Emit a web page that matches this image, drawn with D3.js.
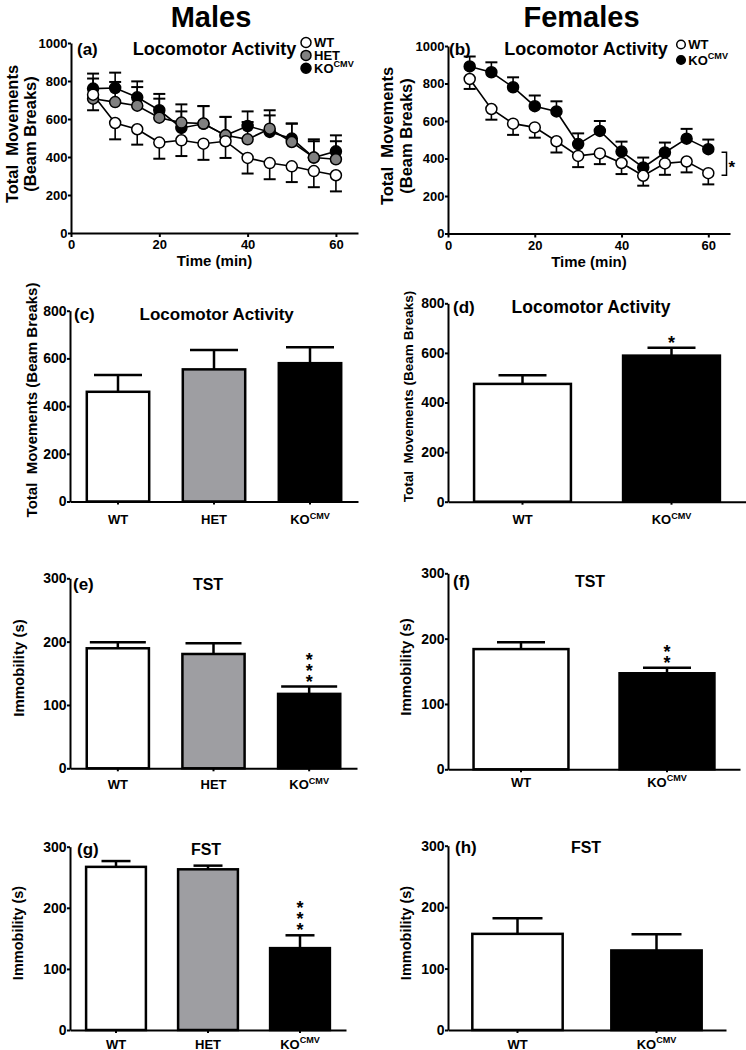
<!DOCTYPE html>
<html><head><meta charset="utf-8">
<script src="https://cdn.jsdelivr.net/npm/d3@7"></script>
<style>
body{margin:0;background:#fff;}
svg{display:block;font-family:"Liberation Sans",Arial,sans-serif;font-weight:bold;}
text{white-space:pre;fill:#000;}
</style></head><body>
<svg id="chart" width="746" height="1050"></svg>
<script>
// ---------- DATA ----------
const timeMin = [5, 10, 15, 20, 25, 30, 35, 40, 45, 50, 55, 60];
const timeTicks = [0, 20, 40, 60];
const locoTicks = [0, 200, 400, 600, 800, 1000];
const barLocoTicks = [0, 200, 400, 600, 800];
const immTicks = [0, 100, 200, 300];

const malesWT = [728, 579, 546, 476, 488, 470, 483, 395, 368, 351, 326, 304];
const malesWTErr = [82, 86, 81, 85, 83, 85, 88, 82, 85, 83, 85, 85];
const malesHET = [707, 689, 670, 607, 581, 576, 514, 493, 549, 479, 397, 388];
const malesHETErr = [106, 106, 98, 100, 96, 92, 97, 91, 97, 97, 86, 95];
const malesKO = [760, 763, 714, 646, 553, 575, 514, 563, 532, 497, 397, 430];
const malesKOErr = [79, 81, 84, 86, 87, 93, 97, 77, 87, 79, 96, 84];

const femalesWT = [824, 664, 586, 566, 492, 414, 427, 376, 308, 374, 384, 322];
const femalesWTErr = [53, 57, 60, 55, 60, 60, 57, 59, 53, 61, 58, 60];
const femalesKO = [891, 860, 780, 679, 651, 477, 547, 437, 352, 432, 506, 450];
const femalesKOErr = [53, 53, 53, 57, 54, 57, 53, 53, 53, 53, 52, 51];

const maleGroups = ["WT", "HET", "KO"];
const femaleGroups = ["WT", "KO"];

const cLoco = [460, 554, 580];        const cLocoErr = [70, 81, 67];
const dLoco = [475, 589];             const dLocoErr = [35, 32];
const eTST = [189.5, 180.5, 117.5];   const eTSTErr = [9.5, 17, 11.5];
const fTST = [184, 147];              const fTSTErr = [10.5, 8.5];
const gFST = [267, 263, 134];         const gFSTErr = [9.5, 6, 21];
const hFST = [156.5, 129.5];          const hFSTErr = [25.5, 26.5];

const cStars = [0, 0, 0]; const dStars = [0, 1];
const eStars = [0, 0, 3]; const fStars = [0, 2];
const gStars = [0, 0, 3]; const hStars = [0, 0];

// ---------- STYLE ----------
const fills = {WT: "#ffffff", HET: "#9e9ea2", KO: "#000000"};
const markFills = {WT: "#ffffff", HET: "#808080", KO: "#000000"};
const svg = d3.select("#chart");
const fmt = d3.format("d");

function styleAxis(sel, size) {
  sel.attr("font-family", null).attr("font-size", size).attr("font-weight", "bold");
  sel.select(".domain").attr("stroke", "#000").attr("stroke-width", 2);
  sel.selectAll(".tick line").attr("stroke", "#000").attr("stroke-width", 2);
  sel.selectAll(".tick text").attr("fill", "#000");
}

function koLabel(t, size) {
  t.append("tspan").text("KO");
  t.append("tspan").attr("dy", -size * 0.42).attr("font-size", size * 0.7).text("CMV");
}

function groupLabel(t, g, size) {
  if (g === "KO") koLabel(t, size); else t.text(g);
}

function rotLabel(lines, cx, cy, size, gap) {
  lines.forEach((s, i) => {
    svg.append("text")
      .attr("transform", `translate(${cx + i * gap},${cy}) rotate(-90)`)
      .attr("text-anchor", "middle").attr("dy", "0.35em")
      .attr("font-size", size).text(s);
  });
}

// ---------- LINE PANELS ----------
function linePanel(o) {
  const x = d3.scaleLinear().domain([0, 65]).range([o.x0, o.x1]);
  const y = d3.scaleLinear().domain([0, 1000]).range([o.yBot, o.yTop]);
  const g = svg.append("g");
  o.series.forEach(s => {
    s.vals.forEach((v, i) => {
      const e = s.down ? v - s.err[i] : v + s.err[i];
      const cx = x(timeMin[i]);
      g.append("line").attr("x1", cx).attr("x2", cx).attr("y1", y(v)).attr("y2", y(e))
        .attr("stroke", "#000").attr("stroke-width", 1.6);
      g.append("line").attr("x1", cx - 6).attr("x2", cx + 6).attr("y1", y(e)).attr("y2", y(e))
        .attr("stroke", "#000").attr("stroke-width", 2);
    });
  });
  const line = d3.line().x((d, i) => x(timeMin[i])).y(d => y(d));
  o.series.forEach(s => {
    g.append("path").attr("d", line(s.vals)).attr("fill", "none")
      .attr("stroke", "#000").attr("stroke-width", 1.6);
  });
  o.series.forEach(s => {
    g.selectAll(null).data(s.vals).enter().append("circle")
      .attr("cx", (d, i) => x(timeMin[i])).attr("cy", d => y(d)).attr("r", 5.5)
      .attr("fill", markFills[s.key]).attr("stroke", "#000").attr("stroke-width", 1.5);
  });
  g.append("g").attr("transform", `translate(0,${o.yBot})`)
    .call(d3.axisBottom(x).tickValues(timeTicks).tickSize(4).tickSizeOuter(0).tickFormat(fmt))
    .call(styleAxis, 13);
  g.append("g").attr("transform", `translate(${o.x0},0)`)
    .call(d3.axisLeft(y).tickValues(locoTicks).tickSize(3).tickPadding(0.5).tickSizeOuter(0).tickFormat(fmt))
    .call(styleAxis, 13);
  svg.append("text").attr("x", o.labX).attr("y", o.titleY).attr("font-size", 17).text(o.lab);
  svg.append("text").attr("x", o.titleX).attr("y", o.titleY).attr("text-anchor", "middle")
    .attr("font-size", 18).text("Locomotor Activity");
  svg.append("text").attr("x", (o.x0 + o.x1) / 2).attr("y", o.yBot + 33)
    .attr("text-anchor", "middle").attr("font-size", 15).text("Time (min)");
  o.legend.forEach((k, i) => {
    const ly = o.legY + i * o.legGap;
    svg.append("circle").attr("cx", o.legX).attr("cy", ly).attr("r", o.legR)
      .attr("fill", markFills[k]).attr("stroke", "#000").attr("stroke-width", 1.5);
    const t = svg.append("text").attr("x", o.legX + o.legR + 3).attr("y", ly + 4.5).attr("font-size", 13);
    if (k === "KO") koLabel(t, 13); else t.text(k);
  });
  return {x, y};
}

linePanel({
  x0: 71, x1: 358, yTop: 43, yBot: 233,
  lab: "(a)", labX: 77, titleX: 214.5, titleY: 55,
  series: [
    {key: "KO", vals: malesKO, err: malesKOErr, down: false},
    {key: "HET", vals: malesHET, err: malesHETErr, down: false},
    {key: "WT", vals: malesWT, err: malesWTErr, down: true}
  ],
  legend: ["WT", "HET", "KO"], legX: 306, legY: 42.5, legGap: 12.9, legR: 5
});

const pb = linePanel({
  x0: 448, x1: 730, yTop: 46, yBot: 233.5,
  lab: "(b)", labX: 449, titleX: 586, titleY: 55,
  series: [
    {key: "KO", vals: femalesKO, err: femalesKOErr, down: false},
    {key: "WT", vals: femalesWT, err: femalesWTErr, down: true}
  ],
  legend: ["WT", "KO"], legX: 681, legY: 44.5, legGap: 15.5, legR: 4.3
});
{
  const yTopB = pb.y(femalesKO[11]) + 3, yBotB = pb.y(femalesWT[11]) + 2;
  const bx = pb.x(64.2);
  svg.append("path")
    .attr("d", `M${bx - 5},${yTopB}H${bx}V${yBotB}H${bx - 5}`)
    .attr("fill", "none").attr("stroke", "#000").attr("stroke-width", 1.5);
  svg.append("text").attr("x", bx + 2).attr("y", (yTopB + yBotB) / 2 + 9)
    .attr("font-size", 17).text("*");
}

svg.append("text").attr("x", 211).attr("y", 26.5).attr("text-anchor", "middle")
  .attr("font-size", 29).text("Males");
svg.append("text").attr("x", 581.5).attr("y", 26.5).attr("text-anchor", "middle")
  .attr("font-size", 29).text("Females");
rotLabel(["Total  Movements", "(Beam Breaks)"], 12, 134, 16.5, 18.5);
rotLabel(["Total  Movements", "(Beam Breaks)"], 387, 136, 16.5, 19.5);

// ---------- BAR PANELS ----------
function barPanel(o) {
  const x = d3.scaleBand().domain(o.cats).range([o.x0, o.x1]).paddingInner(0.35).paddingOuter(0.175);
  const y = d3.scaleLinear().domain([0, o.ymax]).range([o.yBot, o.yTop]);
  const g = svg.append("g");
  const bw = x.bandwidth();
  o.cats.forEach((c, i) => {
    const cx = x(c) + bw / 2;
    const top = y(o.vals[i] + o.err[i]);
    g.append("line").attr("x1", cx).attr("x2", cx).attr("y1", y(o.vals[i])).attr("y2", top)
      .attr("stroke", "#000").attr("stroke-width", 2.5);
    g.append("line").attr("x1", cx - o.capW).attr("x2", cx + o.capW).attr("y1", top).attr("y2", top)
      .attr("stroke", "#000").attr("stroke-width", 2.5);
    g.append("rect").attr("x", x(c)).attr("y", y(o.vals[i]))
      .attr("width", bw).attr("height", o.yBot - y(o.vals[i]))
      .attr("fill", fills[c]).attr("stroke", "#000").attr("stroke-width", 2.5);
    if (o.stars[i] > 0) {
      const st = g.append("text").attr("text-anchor", "middle").attr("font-size", 18);
      for (let k = 0; k < o.stars[i]; k++) {
        const c0 = top - 9 - (o.stars[i] - 1 - k) * 11;
        st.append("tspan").attr("x", cx).attr("y", c0 + 10).text("*");
      }
    }
  });
  g.append("g").attr("transform", `translate(0,${o.yBot})`)
    .call(d3.axisBottom(x).tickSize(3).tickSizeOuter(0).tickFormat(""))
    .call(styleAxis, 13);
  g.append("g").attr("transform", `translate(${o.x0},0)`)
    .call(d3.axisLeft(y).tickValues(o.ticks).tickSize(3).tickPadding(0.5).tickSizeOuter(0).tickFormat(fmt))
    .call(styleAxis, 14);
  o.cats.forEach(c => {
    const t = g.append("text").attr("x", x(c) + bw / 2).attr("y", o.yBot + o.labOff)
      .attr("text-anchor", "middle").attr("font-size", 13);
    groupLabel(t, c, 13);
  });
  svg.append("text").attr("x", o.labX).attr("y", o.titleY).attr("font-size", 17).text(o.lab);
  svg.append("text").attr("x", o.titleX).attr("y", o.titleY).attr("text-anchor", "middle")
    .attr("font-size", o.titleSize).text(o.title);
  rotLabel([o.ylab], o.ylabX, o.ylabY, o.ylabSize, 0);
}

barPanel({cats: maleGroups, vals: cLoco, err: cLocoErr, stars: cStars, ymax: 800, ticks: barLocoTicks,
  x0: 70, x1: 358, yTop: 310.7, yBot: 501.5, capW: 24, labOff: 22.5,
  lab: "(c)", labX: 74, title: "Locomotor Activity", titleX: 216.7, titleY: 320, titleSize: 17,
  ylab: "Total  Movements (Beam Breaks)", ylabX: 32, ylabY: 400, ylabSize: 15});
barPanel({cats: femaleGroups, vals: dLoco, err: dLocoErr, stars: dStars, ymax: 800, ticks: barLocoTicks,
  x0: 448, x1: 746, yTop: 303.3, yBot: 501.7, capW: 24, labOff: 22.3,
  lab: "(d)", labX: 453, title: "Locomotor Activity", titleX: 591, titleY: 313, titleSize: 17.5,
  ylab: "Total  Movements (Beam Breaks)", ylabX: 408, ylabY: 396.5, ylabSize: 13.5});
barPanel({cats: maleGroups, vals: eTST, err: eTSTErr, stars: eStars, ymax: 300, ticks: immTicks,
  x0: 70, x1: 357, yTop: 578.3, yBot: 768.3, capW: 28, labOff: 20.7,
  lab: "(e)", labX: 73, title: "TST", titleX: 208, titleY: 590, titleSize: 16,
  ylab: "Immobility (s)", ylabX: 19, ylabY: 668, ylabSize: 15});
barPanel({cats: femaleGroups, vals: fTST, err: fTSTErr, stars: fStars, ymax: 300, ticks: immTicks,
  x0: 448, x1: 740, yTop: 573.3, yBot: 769.3, capW: 24, labOff: 17.4,
  lab: "(f)", labX: 453, title: "TST", titleX: 590, titleY: 587, titleSize: 16,
  ylab: "Immobility (s)", ylabX: 406, ylabY: 667, ylabSize: 15});
barPanel({cats: maleGroups, vals: gFST, err: gFSTErr, stars: gStars, ymax: 300, ticks: immTicks,
  x0: 70, x1: 346, yTop: 846.7, yBot: 1030, capW: 14.5, labOff: 18.5,
  lab: "(g)", labX: 77, title: "FST", titleX: 206, titleY: 855, titleSize: 16,
  ylab: "Immobility (s)", ylabX: 18, ylabY: 933, ylabSize: 14.5});
barPanel({cats: femaleGroups, vals: hFST, err: hFSTErr, stars: hStars, ymax: 300, ticks: immTicks,
  x0: 448, x1: 726, yTop: 845.7, yBot: 1030, capW: 25, labOff: 18.5,
  lab: "(h)", labX: 455, title: "FST", titleX: 586, titleY: 853, titleSize: 16,
  ylab: "Immobility (s)", ylabX: 406, ylabY: 933, ylabSize: 14.5});
</script>
</body></html>
